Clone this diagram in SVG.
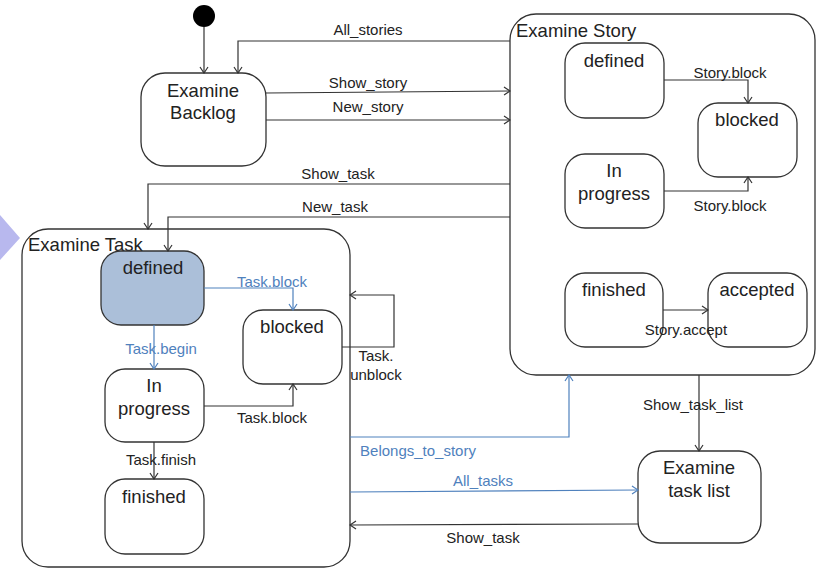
<svg xmlns="http://www.w3.org/2000/svg" width="816" height="569" viewBox="0 0 816 569">
<defs>
<style>
.st{fill:#fff;stroke:#333;stroke-width:1.3}
.cn{fill:none;stroke:#333;stroke-width:1.2}
.bl{fill:none;stroke:#4f81bd;stroke-width:1.2}
text{font-family:"Liberation Sans",Arial,sans-serif;fill:#222}
.t17{font-size:18.5px;text-anchor:middle}
.lb{font-size:15px;text-anchor:middle}
.lbb{font-size:15px;text-anchor:middle;fill:#4f81bd}
.ttl{font-size:18.5px}
</style>
<marker id="a" markerWidth="10" markerHeight="10" refX="9" refY="5" orient="auto" markerUnits="userSpaceOnUse">
<path d="M3,1 L9,5 L3,9" fill="none" stroke="#333" stroke-width="1.2"/>
</marker>
<marker id="ab" markerWidth="10" markerHeight="10" refX="9" refY="5" orient="auto" markerUnits="userSpaceOnUse">
<path d="M3,1 L9,5 L3,9" fill="none" stroke="#4f81bd" stroke-width="1.2"/>
</marker>
</defs>
<rect width="816" height="569" fill="#fff"/>
<polygon points="0,215 20,238 0,260" fill="#b8b8ee"/>

<g id="examine-story">
<rect class="st" x="510" y="14" width="305" height="361" rx="26"/>
<text class="ttl" x="516" y="37">Examine Story</text>
</g>
<g id="examine-task">
<rect class="st" x="22" y="229" width="328" height="338" rx="26"/>
<text class="ttl" x="28" y="251">Examine Task</text>
</g>

<g id="initial"><circle cx="204" cy="16" r="11" fill="#000"/></g>
<g id="examine-backlog">
<rect class="st" x="141" y="73" width="125" height="93" rx="24"/>
<text class="t17" x="203" y="97">Examine</text>
<text class="t17" x="203" y="119">Backlog</text>
</g>
<g id="story-defined">
<rect class="st" x="565" y="43" width="99" height="75" rx="20"/>
<text class="t17" x="614" y="67">defined</text>
</g>
<g id="story-blocked">
<rect class="st" x="698" y="103" width="99" height="74" rx="20"/>
<text class="t17" x="747" y="126">blocked</text>
</g>
<g id="story-inprogress">
<rect class="st" x="565" y="154" width="99" height="74" rx="20"/>
<text class="t17" x="614" y="177">In</text>
<text class="t17" x="614" y="200">progress</text>
</g>
<g id="story-finished">
<rect class="st" x="565" y="273" width="98" height="74" rx="20"/>
<text class="t17" x="614" y="296">finished</text>
</g>
<g id="story-accepted">
<rect class="st" x="708" y="273" width="99" height="74" rx="20"/>
<text class="t17" x="757" y="296">accepted</text>
</g>
<g id="task-defined">
<rect x="101" y="251" width="103" height="74" rx="20" fill="#abbfd9" stroke="#333" stroke-width="1.3"/>
<text class="t17" x="153" y="274">defined</text>
</g>
<g id="task-blocked">
<rect class="st" x="243" y="310" width="99" height="74" rx="20"/>
<text class="t17" x="292" y="333">blocked</text>
</g>
<g id="task-inprogress">
<rect class="st" x="105" y="369" width="99" height="73" rx="20"/>
<text class="t17" x="154" y="392">In</text>
<text class="t17" x="154" y="415">progress</text>
</g>
<g id="task-finished">
<rect class="st" x="105" y="479" width="99" height="75" rx="20"/>
<text class="t17" x="154" y="503">finished</text>
</g>
<g id="examine-task-list">
<rect class="st" x="638" y="451" width="123" height="92" rx="22"/>
<text class="t17" x="699" y="474">Examine</text>
<text class="t17" x="699" y="497">task list</text>
</g>

<g id="connectors">
<path class="cn" d="M204,27 V73" marker-end="url(#a)"/>
<path class="cn" d="M510,41 H238 V73" marker-end="url(#a)"/>
<path class="cn" d="M266,93 L510,91" marker-end="url(#a)"/>
<path class="cn" d="M266,120 H510" marker-end="url(#a)"/>
<path class="cn" d="M510,184 H148 V229" marker-end="url(#a)"/>
<path class="cn" d="M510,217 H168 V251" marker-end="url(#a)"/>
<path class="cn" d="M664,80 H748 V103" marker-end="url(#a)"/>
<path class="cn" d="M664,191 H748 V177" marker-end="url(#a)"/>
<path class="cn" d="M663,310 H708" marker-end="url(#a)"/>
<path class="bl" d="M204,288 H293 V310" marker-end="url(#ab)"/>
<path class="bl" d="M154,325 V369" marker-end="url(#ab)"/>
<path class="cn" d="M204,406 H293 V384" marker-end="url(#a)"/>
<path class="cn" d="M154,442 V479" marker-end="url(#a)"/>
<path class="cn" d="M342,347 H394 V295 H350" marker-end="url(#a)"/>
<path class="bl" d="M350,437 H569 V375" marker-end="url(#ab)"/>
<path class="bl" d="M350,492 L638,490" marker-end="url(#ab)"/>
<path class="cn" d="M638,524 L350,525" marker-end="url(#a)"/>
<path class="cn" d="M699,375 V451" marker-end="url(#a)"/>
<text class="lb" x="368" y="35">All_stories</text>
<text class="lb" x="368" y="88">Show_story</text>
<text class="lb" x="368" y="112">New_story</text>
<text class="lb" x="338" y="179">Show_task</text>
<text class="lb" x="335" y="212">New_task</text>
<text class="lb" x="730" y="78">Story.block</text>
<text class="lb" x="730" y="211">Story.block</text>
<text class="lb" x="686" y="335">Story.accept</text>
<text class="lbb" x="272" y="287">Task.block</text>
<text class="lbb" x="161" y="354">Task.begin</text>
<text class="lb" x="272" y="423">Task.block</text>
<text class="lb" x="161" y="465">Task.finish</text>
<text class="lb" x="376" y="361">Task.</text>
<text class="lb" x="376" y="380">unblock</text>
<text class="lbb" x="418" y="456">Belongs_to_story</text>
<text class="lbb" x="483" y="486">All_tasks</text>
<text class="lb" x="483" y="543">Show_task</text>
<text class="lb" x="693" y="410">Show_task_list</text>
</g>
</svg>
